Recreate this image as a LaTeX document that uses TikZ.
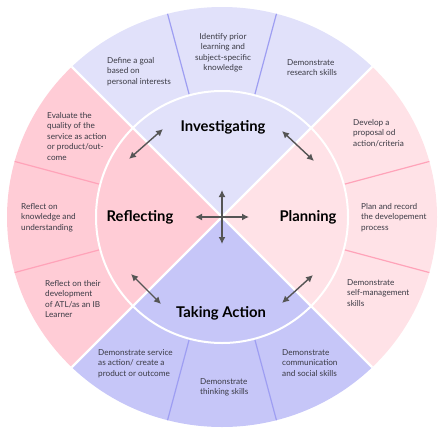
\documentclass[tikz,border=0pt]{standalone}
\usepackage{fontspec}
\setmainfont{Lato}
\usepackage{xcolor}
\usetikzlibrary{arrows.meta}

\definecolor{invfill}{HTML}{E1E1FA}
\definecolor{planfill}{HTML}{FFE2E7}
\definecolor{actfill}{HTML}{C6C6F8}
\definecolor{reffill}{HTML}{FFCCD6}
\definecolor{bluediv}{HTML}{9E9EF2}
\definecolor{pinkdiv}{HTML}{FFA3B9}
\definecolor{arrgray}{HTML}{555555}
\definecolor{txtgray}{HTML}{3A3A44}

\begin{document}
\begin{tikzpicture}[
    x=1pt, y=-1pt,
    phase/.style={font=\fontsize{14.8}{16}\selectfont\bfseries, text=black,
                  inner sep=0pt, anchor=base},
    note/.style={font=\fontsize{8.2}{10.5}\selectfont, text=txtgray,
                 align=left, inner sep=0pt, anchor=north west},
    twoway/.style={{Latex[length=7pt,width=7pt]}-{Latex[length=7pt,width=7pt]},
                   arrgray, line width=1.4pt}
  ]
    \useasboundingbox (0,0) rectangle (443,433);
    \coordinate (c) at (222,217);

    % wheel
    \begin{scope}
      \clip (c) ellipse [x radius=215, y radius=210];
      \fill[invfill]  (c) -- ++(-300,-300) -- ++(600,0) -- cycle;
      \fill[actfill]  (c) -- ++(-300,300) -- ++(600,0) -- cycle;
      \fill[reffill]  (c) -- ++(-300,-300) -- ++(0,600) -- cycle;
      \fill[planfill] (c) -- ++(300,-300) -- ++(0,600) -- cycle;
      \foreach \a/\col in {75/bluediv, 105/bluediv, 255/bluediv, 285/bluediv,
                           15/pinkdiv, 165/pinkdiv, 195/pinkdiv, 345/pinkdiv}
        \draw[\col, line width=1.2pt] (c) ++(\a:126) -- ++(\a:110);
      \draw[white, line width=2.2pt] (c) ++(-300,-300) -- ++(600,600);
      \draw[white, line width=2.2pt] (c) ++(300,-300) -- ++(-600,600);
    \end{scope}
    \draw[white, line width=2pt] (c) circle [radius=126];

    % phases
    \node[phase] (inv)  at (223,131) {Investigating};
    \node[phase] (plan) at (308,221) {Planning};
    \node[phase] (refl) at (140,221) {Reflecting};
    \node[phase] (act)  at (221,317) {Taking Action};

    % outer ring
    \node[note] (goal) at (107,57) {Define a goal\\based on\\personal interests};
    \node[note, align=center, anchor=north] (prior) at (223,33)
      {Identify prior\\learning and\\subject-specific\\knowledge};
    \node[note] (research)  at (287,59)  {Demonstrate\\research skills};
    \node[note] (proposal)  at (353,119) {Develop a\\proposal od\\action/criteria};
    \node[note] (record)    at (361,203) {Plan and record\\the developement\\process};
    \node[note] (selfman)   at (347,279) {Demonstrate\\self-management\\skills};
    \node[note] (evaluate)  at (47,112)
      {Evaluate the\\quality of the\\service as action\\or product/out-\\come};
    \node[note] (knowledge) at (21,203)  {Reflect on\\knowledge and\\understanding};
    \node[note] (atl)       at (45,280)  {Reflect on their\\development\\of ATL/as an IB\\Learner};
    \node[note] (service)   at (98,349)  {Demonstrate service\\as action/ create a\\product or outcome};
    \node[note] (thinking)  at (200,378) {Demonstrate\\thinking skills};
    \node[note] (social)    at (282,349) {Demonstrate\\communication\\and social skills};

    % arrows
    \coordinate (up)    at (222,190);
    \coordinate (down)  at (222,244);
    \coordinate (left)  at (195,217);
    \coordinate (right) at (249,217);
    \coordinate (tla) at (163,129);
    \coordinate (tlb) at (129,159);
    \coordinate (tra) at (282,131);
    \coordinate (trb) at (314,161);
    \coordinate (bla) at (131,274);
    \coordinate (blb) at (161,304);
    \coordinate (bra) at (313,275);
    \coordinate (brb) at (282,303);
    \foreach \a/\b in {up/down, left/right, tla/tlb, tra/trb, bla/blb, bra/brb}
      \draw[twoway] (\a) -- (\b);
\end{tikzpicture}
\end{document}
